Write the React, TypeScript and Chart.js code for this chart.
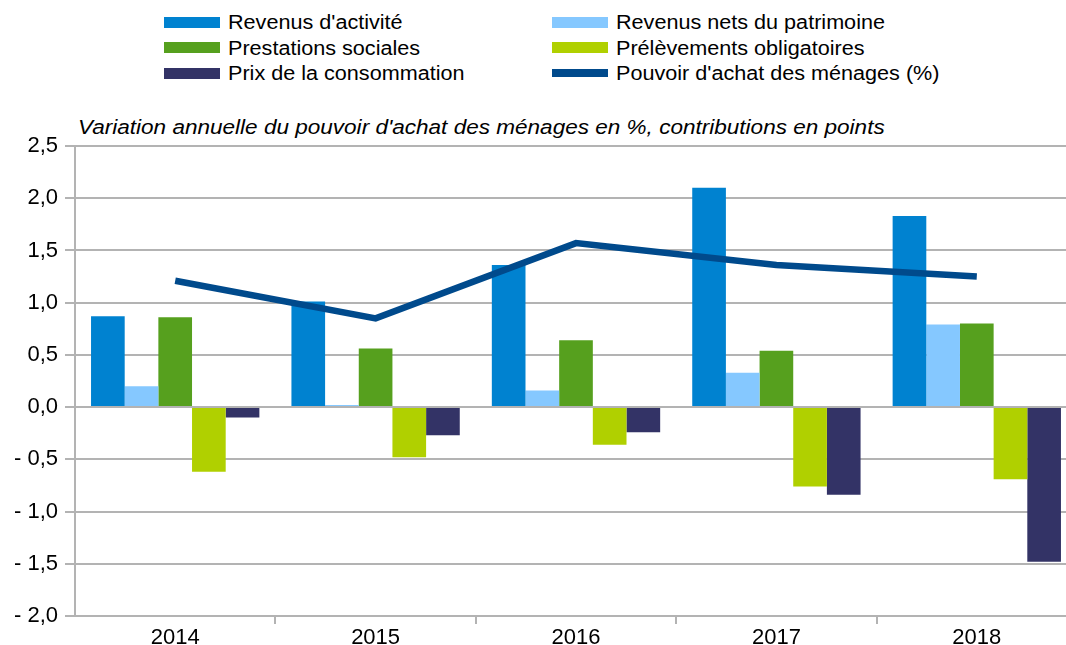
import React, { useEffect, useRef } from "react";
import { Chart, registerables } from "chart.js";

Chart.register(...registerables);

const categories = ["2014", "2015", "2016", "2017", "2018"];
const revenusActivite = [0.87, 1.01, 1.36, 2.1, 1.83];
const revenusPatrimoine = [0.2, 0.02, 0.16, 0.33, 0.79];
const prestationsSociales = [0.86, 0.56, 0.64, 0.54, 0.8];
const prelevementsObligatoires = [-0.62, -0.48, -0.36, -0.76, -0.69];
const prixConsommation = [-0.1, -0.27, -0.24, -0.84, -1.48];
const pouvoirAchat = [1.21, 0.85, 1.57, 1.36, 1.25];

const titleText =
  "Variation annuelle du pouvoir d'achat des ménages en %, contributions en points";

const COLORS = {
  activite: "#0082d0",
  patrimoine: "#85c8ff",
  prestations: "#56a01e",
  prelevements: "#b0d000",
  prix: "#333366",
  pouvoir: "#004a8c",
};

const legendItems = [
  { label: "Revenus d'activité", color: COLORS.activite, col: 0, row: 0, h: 11 },
  { label: "Revenus nets du patrimoine", color: COLORS.patrimoine, col: 1, row: 0, h: 11 },
  { label: "Prestations sociales", color: COLORS.prestations, col: 0, row: 1, h: 11 },
  { label: "Prélèvements obligatoires", color: COLORS.prelevements, col: 1, row: 1, h: 11 },
  { label: "Prix de la consommation", color: COLORS.prix, col: 0, row: 2, h: 11 },
  { label: "Pouvoir d'achat des ménages (%)", color: COLORS.pouvoir, col: 1, row: 2, h: 8 },
];

const FONT = "'Liberation Sans', Arial, sans-serif";
const GRID = "#b3b3b3";

export default function App() {
  const canvasRef = useRef<HTMLCanvasElement | null>(null);

  useEffect(() => {
    if (!canvasRef.current) return;
    const fmt = (v: number) => {
      const s = Math.abs(v).toFixed(1).replace(".", ",");
      return v < 0 ? "- " + s : s;
    };
    const chart = new Chart(canvasRef.current, {
      type: "bar",
      data: {
        labels: categories,
        datasets: [
          {
            type: "line",
            label: "Pouvoir d'achat des ménages (%)",
            data: pouvoirAchat,
            borderColor: COLORS.pouvoir,
            backgroundColor: COLORS.pouvoir,
            borderWidth: 6.5,
            pointRadius: 0,
            tension: 0,
            order: 0,
          } as any,
          { label: "Revenus d'activité", data: revenusActivite, backgroundColor: COLORS.activite, order: 1 },
          { label: "Revenus nets du patrimoine", data: revenusPatrimoine, backgroundColor: COLORS.patrimoine, order: 1 },
          { label: "Prestations sociales", data: prestationsSociales, backgroundColor: COLORS.prestations, order: 1 },
          { label: "Prélèvements obligatoires", data: prelevementsObligatoires, backgroundColor: COLORS.prelevements, order: 1 },
          { label: "Prix de la consommation", data: prixConsommation, backgroundColor: COLORS.prix, order: 1 },
        ],
      },
      options: {
        animation: false,
        responsive: true,
        maintainAspectRatio: false,
        layout: { padding: { top: 146, right: 3, left: 0, bottom: 0 } },
        datasets: {
          bar: { barPercentage: 1, categoryPercentage: 0.84 },
        },
        plugins: {
          legend: { display: false },
          title: { display: false },
          tooltip: { enabled: false },
        },
        scales: {
          x: {
            grid: {
              offset: true,
              drawOnChartArea: false,
              drawTicks: true,
              tickLength: 8,
              tickColor: (ctx: any) => (ctx.index === 0 ? "rgba(0,0,0,0)" : GRID),
              lineWidth: 2,
            },
            border: { color: GRID, width: 2 },
            ticks: {
              color: "#000",
              font: { family: FONT, size: 22 },
              padding: 1,
              maxRotation: 0,
            },
            afterFit: (scale: any) => {
              scale.height = 29;
            },
          },
          y: {
            min: -2,
            max: 2.5,
            ticks: {
              stepSize: 0.5,
              color: "#000",
              font: { family: FONT, size: 22 },
              padding: 7,
              callback: (v: any) => fmt(Number(v)),
            },
            grid: {
              color: GRID,
              lineWidth: 2,
              tickLength: 10,
              drawTicks: true,
            },
            border: { color: GRID, width: 2 },
            afterFit: (scale: any) => {
              scale.width = 75;
            },
          },
        },
      },
    });
    return () => chart.destroy();
  }, []);

  const rowY = [22, 47.5, 73];
  const swatchX = [164, 552];
  const textX = [228, 616];

  return (
    <div
      style={{
        position: "absolute",
        left: 0,
        top: 0,
        width: 1066,
        height: 645,
        overflow: "hidden",
        background: "#fff",
        fontFamily: FONT,
      }}
    >
      {legendItems.map((it) => (
        <React.Fragment key={it.label}>
          <div
            style={{
              position: "absolute",
              left: swatchX[it.col],
              top: rowY[it.row] - it.h / 2,
              width: 56,
              height: it.h,
              background: it.color,
            }}
          />
          <div
            style={{
              position: "absolute",
              left: textX[it.col],
              top: rowY[it.row] - 12,
              height: 24,
              lineHeight: "24px",
              fontSize: 20,
              color: "#000",
              whiteSpace: "nowrap",
              transform: "scaleX(1.08)",
              transformOrigin: "left center",
            }}
          >
            {it.label}
          </div>
        </React.Fragment>
      ))}
      <div
        style={{
          position: "absolute",
          left: 78,
          top: 115,
          height: 24,
          lineHeight: "24px",
          fontSize: 20,
          fontStyle: "italic",
          color: "#000",
          whiteSpace: "nowrap",
          transform: "scaleX(1.127)",
          transformOrigin: "left center",
        }}
      >
        {titleText}
      </div>
      <div style={{ position: "absolute", left: 0, top: 0, width: 1080, height: 645 }}>
        <canvas ref={canvasRef} />
      </div>
    </div>
  );
}
